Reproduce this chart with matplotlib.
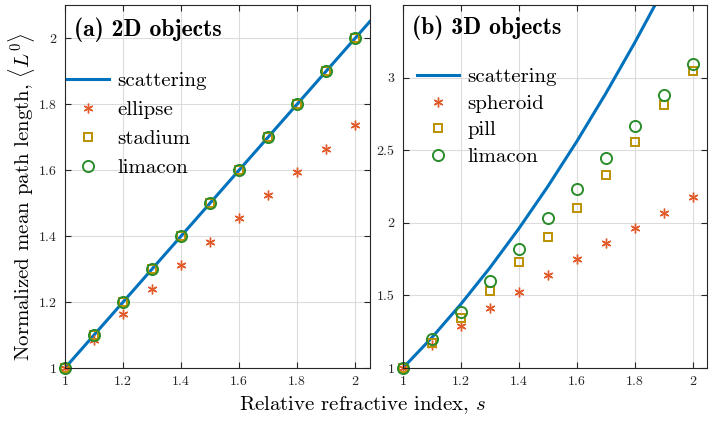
import numpy as np
import matplotlib
matplotlib.use('Agg')
from matplotlib import pyplot as plt
from matplotlib.ticker import FormatStrFormatter

plt.rcParams['font.family'] = ['cmr10', 'DejaVu Serif']
plt.rcParams['mathtext.fontset'] = 'cm'
plt.rcParams['axes.formatter.use_mathtext'] = True

# refractive index
s = [1.0, 1.1, 1.2, 1.3, 1.4, 1.5, 1.6, 1.7, 1.8, 1.9, 2.0]

# 2D objects
scat2d_s = [1.0, 2.05]
scat2d = [1.0, 2.05]
ellipse = [1.0, 1.086, 1.165, 1.239, 1.311, 1.382, 1.454, 1.524, 1.595, 1.665, 1.735]
stadium = [1.0, 1.1, 1.2, 1.3, 1.4, 1.5, 1.6, 1.7, 1.8, 1.9, 2.0]
limacon2d = [1.0, 1.1, 1.2, 1.3, 1.4, 1.5, 1.6, 1.7, 1.8, 1.9, 2.0]

# 3D objects
scat3d_s = [1.0, 1.1, 1.2, 1.3, 1.4, 1.5, 1.6, 1.7, 1.8, 1.9]
scat3d = [1.0, 1.21, 1.44, 1.69, 1.96, 2.25, 2.56, 2.89, 3.24, 3.61]
spheroid = [1.0, 1.16, 1.29, 1.41, 1.526, 1.64, 1.748, 1.858, 1.966, 2.071, 2.178]
pill = [1.0, 1.17, 1.343, 1.529, 1.728, 1.904, 2.105, 2.33, 2.556, 2.812, 3.043]
limacon3d = [1.0, 1.2, 1.389, 1.6, 1.819, 2.03, 2.233, 2.449, 2.666, 2.879, 3.094]

blue = '#0072BD'
orange = '#E2592A'
gold = '#BC9000'
green = '#2A8C2A'
spine = '#262626'

fig = plt.figure(figsize=(7.24, 4.22), dpi=100)
ax1 = fig.add_axes([0.0898, 0.128, 0.421, 0.860])
ax2 = fig.add_axes([0.5566, 0.128, 0.420, 0.860])


def style(ax):
    ax.grid(True, color='#dcdcdc', linewidth=0.8)
    ax.set_axisbelow(True)
    ax.tick_params(direction='in', top=True, right=True, labelsize=10, colors=spine,
                   length=4, width=0.8, pad=6)
    for sp in ax.spines.values():
        sp.set_color(spine)
        sp.set_linewidth(0.8)
    ax.xaxis.set_major_formatter(FormatStrFormatter('%g'))
    ax.yaxis.set_major_formatter(FormatStrFormatter('%g'))
    ax.set_xticks([1, 1.2, 1.4, 1.6, 1.8, 2])


def points(ax, data, color, marker, ms, mew, label):
    ax.plot(s, data, linestyle='none', marker=marker, markersize=ms, markerfacecolor='none',
            markeredgecolor=color, markeredgewidth=mew, label=label, clip_on=False)


# (a)
ax1.plot(scat2d_s, scat2d, color=blue, linewidth=2.2, label='scattering')
points(ax1, ellipse, orange, (6, 2, 0), 7, 1.0, 'ellipse')
points(ax1, stadium, gold, 's', 6, 1.4, 'stadium')
points(ax1, limacon2d, green, 'o', 8, 1.4, 'limacon')
ax1.set_xlim(1, 2.05)
ax1.set_ylim(1, 2.1)
ax1.set_yticks([1, 1.2, 1.4, 1.6, 1.8, 2])
style(ax1)
ax1.text(0.03, 0.965, '(a) 2D objects', transform=ax1.transAxes, fontsize=17,
         family='cmb10', va='top', ha='left')
ax1.legend(loc='upper left', bbox_to_anchor=(-0.02, 0.84), frameon=False, fontsize=15,
           handlelength=2.0, handletextpad=0.4, labelspacing=0.5, borderaxespad=0)

# (b)
ax2.plot(scat3d_s, scat3d, color=blue, linewidth=2.2, label='scattering')
points(ax2, spheroid, orange, (6, 2, 0), 7, 1.0, 'spheroid')
points(ax2, pill, gold, 's', 6, 1.4, 'pill')
points(ax2, limacon3d, green, 'o', 8, 1.4, 'limacon')
ax2.set_xlim(1, 2.05)
ax2.set_ylim(1, 3.5)
ax2.set_yticks([1, 1.5, 2, 2.5, 3])
style(ax2)
ax2.text(0.03, 0.97, '(b) 3D objects', transform=ax2.transAxes, fontsize=17,
         family='cmb10', va='top', ha='left')
ax2.legend(loc='upper left', bbox_to_anchor=(0.02, 0.85), frameon=False, fontsize=15,
           handlelength=2.0, handletextpad=0.4, labelspacing=0.38, borderaxespad=0)

fig.text(0.03, 0.535, r'Normalized mean path length, $\langle L^0\rangle$', rotation=90,
         fontsize=15, ha='center', va='center')
fig.text(0.5, 0.04, r'Relative refractive index, $s$', fontsize=15, ha='center', va='center')

fig.savefig('out.png', dpi=100)
